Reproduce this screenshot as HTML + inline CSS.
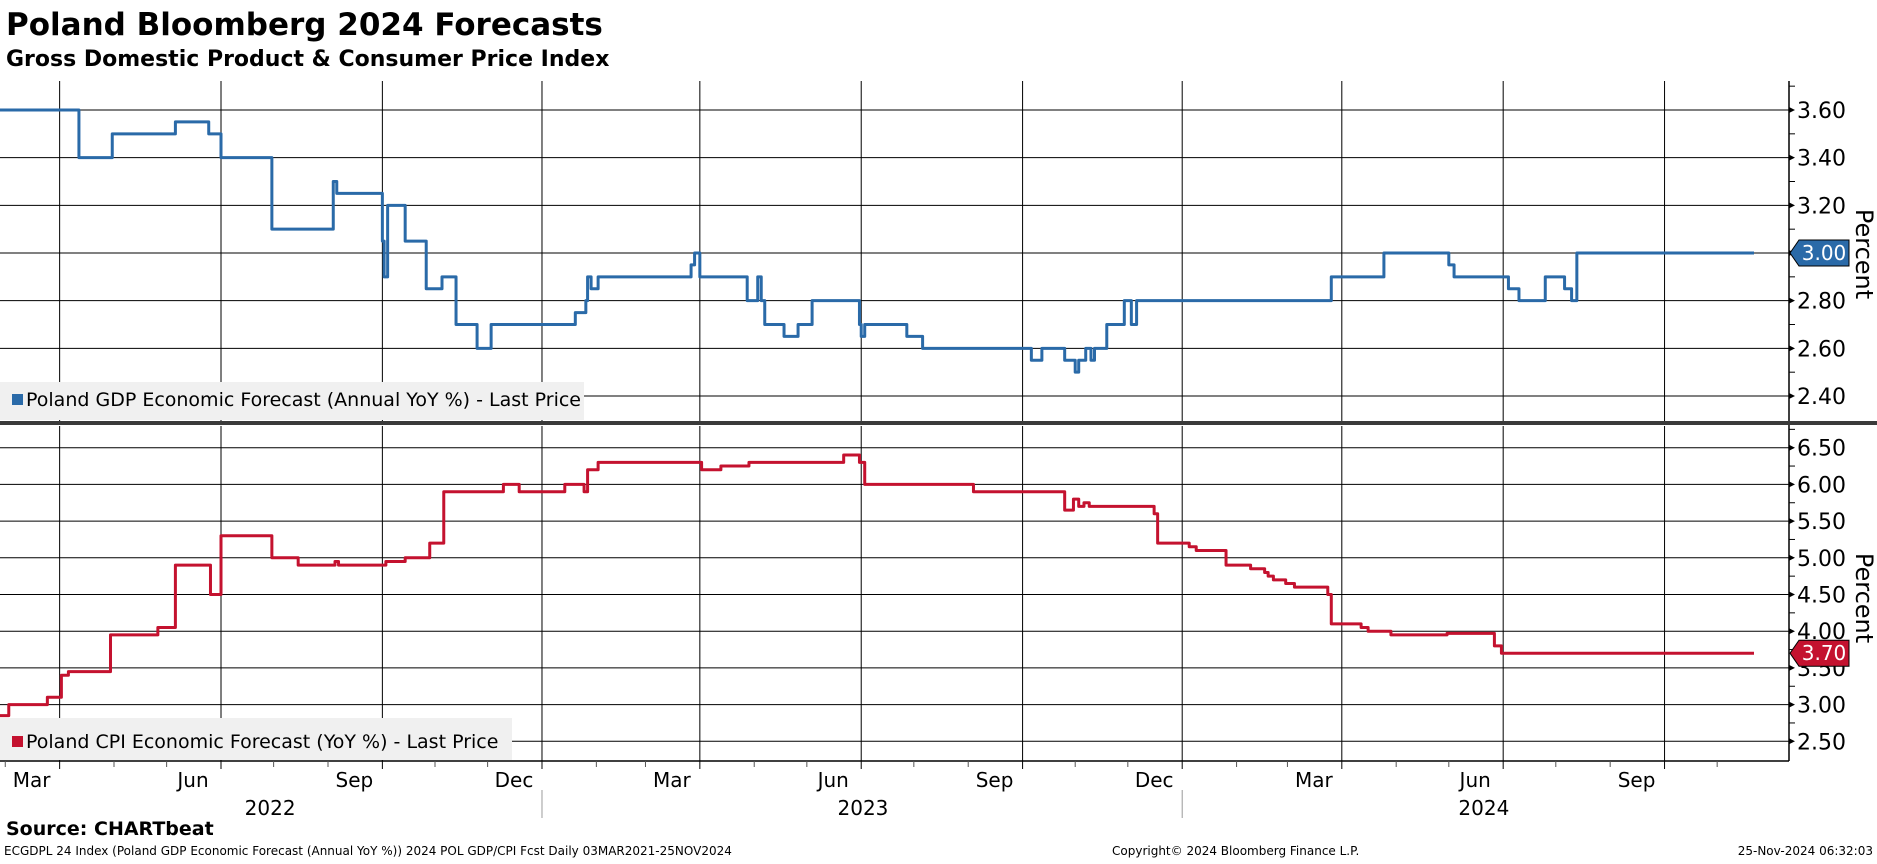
<!DOCTYPE html>
<html><head><meta charset="utf-8"><style>
body{margin:0;background:#fff;font-family:"Liberation Sans","DejaVu Sans",sans-serif;}
svg text{font-family:"DejaVu Sans","Liberation Sans",sans-serif;}
</style></head><body>
<svg id="c" width="1877" height="859" xmlns="http://www.w3.org/2000/svg">
<text x="6" y="35" font-size="31" font-weight="bold" font-family="Liberation Sans">Poland Bloomberg 2024 Forecasts</text>
<text x="6" y="66" font-size="22" font-weight="bold" font-family="Liberation Sans">Gross Domestic Product &amp; Consumer Price Index</text>
<g id="g"></g>
<text x="6" y="835" font-size="19" font-weight="bold" font-family="Liberation Sans">Source: CHARTbeat</text>
<text x="4" y="855" font-size="12">ECGDPL 24 Index (Poland GDP Economic Forecast (Annual YoY %)) 2024 POL GDP/CPI Fcst  Daily 03MAR2021-25NOV2024</text>
<text x="1112" y="855" font-size="12">Copyright© 2024 Bloomberg Finance L.P.</text>
<text x="1873" y="855" font-size="12" text-anchor="end">25-Nov-2024 06:32:03</text>
</svg>
<script>
const gdpDays=[0,45,64,100,119,126,155,190,192,218,219,221,231,243,252,260,272,280,328,334,335,337,341,394,396,399,426,432,434,436,447,455,463,490,491,493,517,526,588,594,607,613,615,619,622,624,631,641,645,648,759,789,826,829,860,866,881,892,896,899];
const gdpVals=[3.6,3.4,3.5,3.55,3.5,3.4,3.1,3.3,3.25,3.05,2.9,3.2,3.05,2.85,2.9,2.7,2.6,2.7,2.75,2.8,2.9,2.85,2.9,2.95,3.0,2.9,2.8,2.9,2.8,2.7,2.65,2.7,2.8,2.7,2.65,2.7,2.65,2.6,2.55,2.6,2.55,2.5,2.55,2.6,2.55,2.6,2.7,2.8,2.7,2.8,2.9,3.0,2.95,2.9,2.85,2.8,2.9,2.85,2.8,3.0];
const cpiDays=[0,5,27,35,39,63,90,100,120,126,155,170,191,193,220,231,245,253,287,296,322,333,335,341,400,411,427,481,490,493,555,607,612,615,618,621,658,660,678,682,699,713,721,723,726,733,738,757,759,776,780,793,825,852,856];
const cpiVals=[2.85,3.0,3.1,3.4,3.45,3.95,4.05,4.9,4.5,5.3,5.0,4.9,4.95,4.9,4.95,5.0,5.2,5.9,6.0,5.9,6.0,5.9,6.2,6.3,6.2,6.25,6.3,6.4,6.3,6.0,5.9,5.65,5.8,5.7,5.75,5.7,5.6,5.2,5.15,5.1,4.9,4.85,4.8,4.75,4.7,4.65,4.6,4.5,4.1,4.05,4.0,3.95,3.97,3.8,3.7];
const endDay=1000;
const gdpTicks=["2.40","2.60","2.80","3.00","3.20","3.40","3.60"];
const cpiTicks=["2.50","3.00","3.50","4.00","4.50","5.00","5.50","6.00","6.50"];
const monthDays=[34,126,218,309,399,491,583,674,765,857,949];
const monthLabels=["Mar","Jun","Sep","Dec","Mar","Jun","Sep","Dec","Mar","Jun","Sep"];
const minorMonthDays=[3,65,95,156,187,248,278,340,368,430,460,521,552,613,643,705,734,796,826,887,918,979];
const yearLabels=["2022","2023","2024"];const yearDays=[154,492,846];
const sepDays=[309,674];

const NS="http://www.w3.org/2000/svg",G=document.getElementById('g');
const AX=1789;
const xs=d=>d*1.754;
const yG=v=>110+(3.6-v)/0.2*47.67;
const yC=v=>447.7+(6.5-v)/0.5*36.7;
function el(t,a,p){const e=document.createElementNS(NS,t);for(const k in a)e.setAttribute(k,a[k]);(p||G).appendChild(e);return e;}
function txt(x,y,s,sz,anc,fill){const t=el('text',{x:x,y:y,'font-size':sz,'text-anchor':anc||'start',fill:fill||'#000'});t.textContent=s;return t;}
[[81,423],[426,761]].forEach((p,i)=>{
 monthDays.forEach(d=>{const l=el('line',{x1:xs(d),x2:xs(d),y1:p[0],y2:p[1],stroke:'#000','stroke-width':1});
 
 });
});
gdpTicks.forEach(s=>{const v=+s,y=yG(v);
 const l=el('line',{x1:0,x2:AX,y1:y,y2:y,stroke:'#000','stroke-width':1});
 
 
 el('path',{d:`M${AX} ${y-3}L${AX+6} ${y}L${AX} ${y+3}Z`,fill:'#000'});
 const t=txt(AX+8,y+8,s,22);
 
 
 const m=yG(v+0.1);if(m>82)el('line',{x1:AX,x2:AX+6,y1:m,y2:m,stroke:'#000'});
});
cpiTicks.forEach(s=>{const v=+s,y=yC(v);
 const l=el('line',{x1:0,x2:AX,y1:y,y2:y,stroke:'#000','stroke-width':1});
 
 
 el('path',{d:`M${AX} ${y-3}L${AX+6} ${y}L${AX} ${y+3}Z`,fill:'#000'});
 const t=txt(AX+8,y+8,s,22);
 
 
 const m=yC(v+0.25);if(m>428)el('line',{x1:AX,x2:AX+6,y1:m,y2:m,stroke:'#000'});
});
el('line',{x1:AX,x2:AX,y1:81,y2:761,stroke:'#000','stroke-width':1.5});
el('rect',{x:0,y:421,width:1877,height:4,fill:'#3a3a3a'});
el('line',{x1:0,x2:AX,y1:761,y2:761,stroke:'#000','stroke-width':1.5});
el('rect',{x:0,y:382,width:584,height:38,fill:'#f0f0f0'});
el('rect',{x:12,y:394,width:11,height:11,fill:'#2a6aa8'});
let t=txt(26,406,"Poland GDP Economic Forecast (Annual YoY %) - Last Price",19);


el('rect',{x:0,y:718,width:512,height:42,fill:'#f0f0f0'});
el('rect',{x:12,y:736,width:11,height:11,fill:'#c4122f'});
t=txt(26,748,"Poland CPI Economic Forecast (YoY %) - Last Price",19);


function step(days,vals,ys,col,name){let d='';days.forEach((dd,i)=>{const x=xs(dd),y=ys(vals[i]);d+=(i?`L${x} ${ys(vals[i-1])}L${x} ${y}`:`M${x} ${y}`);});
 d+=`L${xs(endDay)} ${ys(vals[vals.length-1])}`;
 const p=el('path',{d:d,fill:'none',stroke:col,'stroke-width':3,'stroke-linejoin':'round'});
 
 }
step(gdpDays,gdpVals,yG,'#2a6aa8','gdp-line');
step(cpiDays,cpiVals,yC,'#c4122f','cpi-line');
function tag(v,ys,col,name){const y=ys(v);el('path',{d:`M${AX+1} ${y}L${AX+10} ${y-13}L${AX+60} ${y-13}L${AX+60} ${y+13}L${AX+10} ${y+13}Z`,fill:col,stroke:'#000','stroke-width':1});
 const t=txt(AX+35,y+7,v.toFixed(2),20,'middle','#fff');
 
 }
tag(gdpVals[gdpVals.length-1],yG,'#2a6aa8','gdp-last-price-tag');
tag(cpiVals[cpiVals.length-1],yC,'#c4122f','cpi-last-price-tag');
[[254,'gdp-y-axis-title'],[598,'cpi-y-axis-title']].forEach(a=>{const t=txt(0,0,'Percent',24,'middle');
 t.setAttribute('transform',`translate(1856 ${a[0]}) rotate(90)`);
 
 });
minorMonthDays.forEach(d=>el('line',{x1:xs(d),x2:xs(d),y1:761,y2:767,stroke:'#555'}));
monthDays.forEach((d,i)=>{el('line',{x1:xs(d),x2:xs(d),y1:761,y2:769,stroke:'#000'});
 const t=txt(xs(d)-28,787,monthLabels[i],20,'middle');
 
 });
yearLabels.forEach((s,i)=>{const t=txt(xs(yearDays[i]),815,s,20,'middle');
 
 });
sepDays.forEach(d=>el('line',{x1:xs(d),x2:xs(d),y1:790,y2:818,stroke:'#999'}));
</script>
</body></html>
